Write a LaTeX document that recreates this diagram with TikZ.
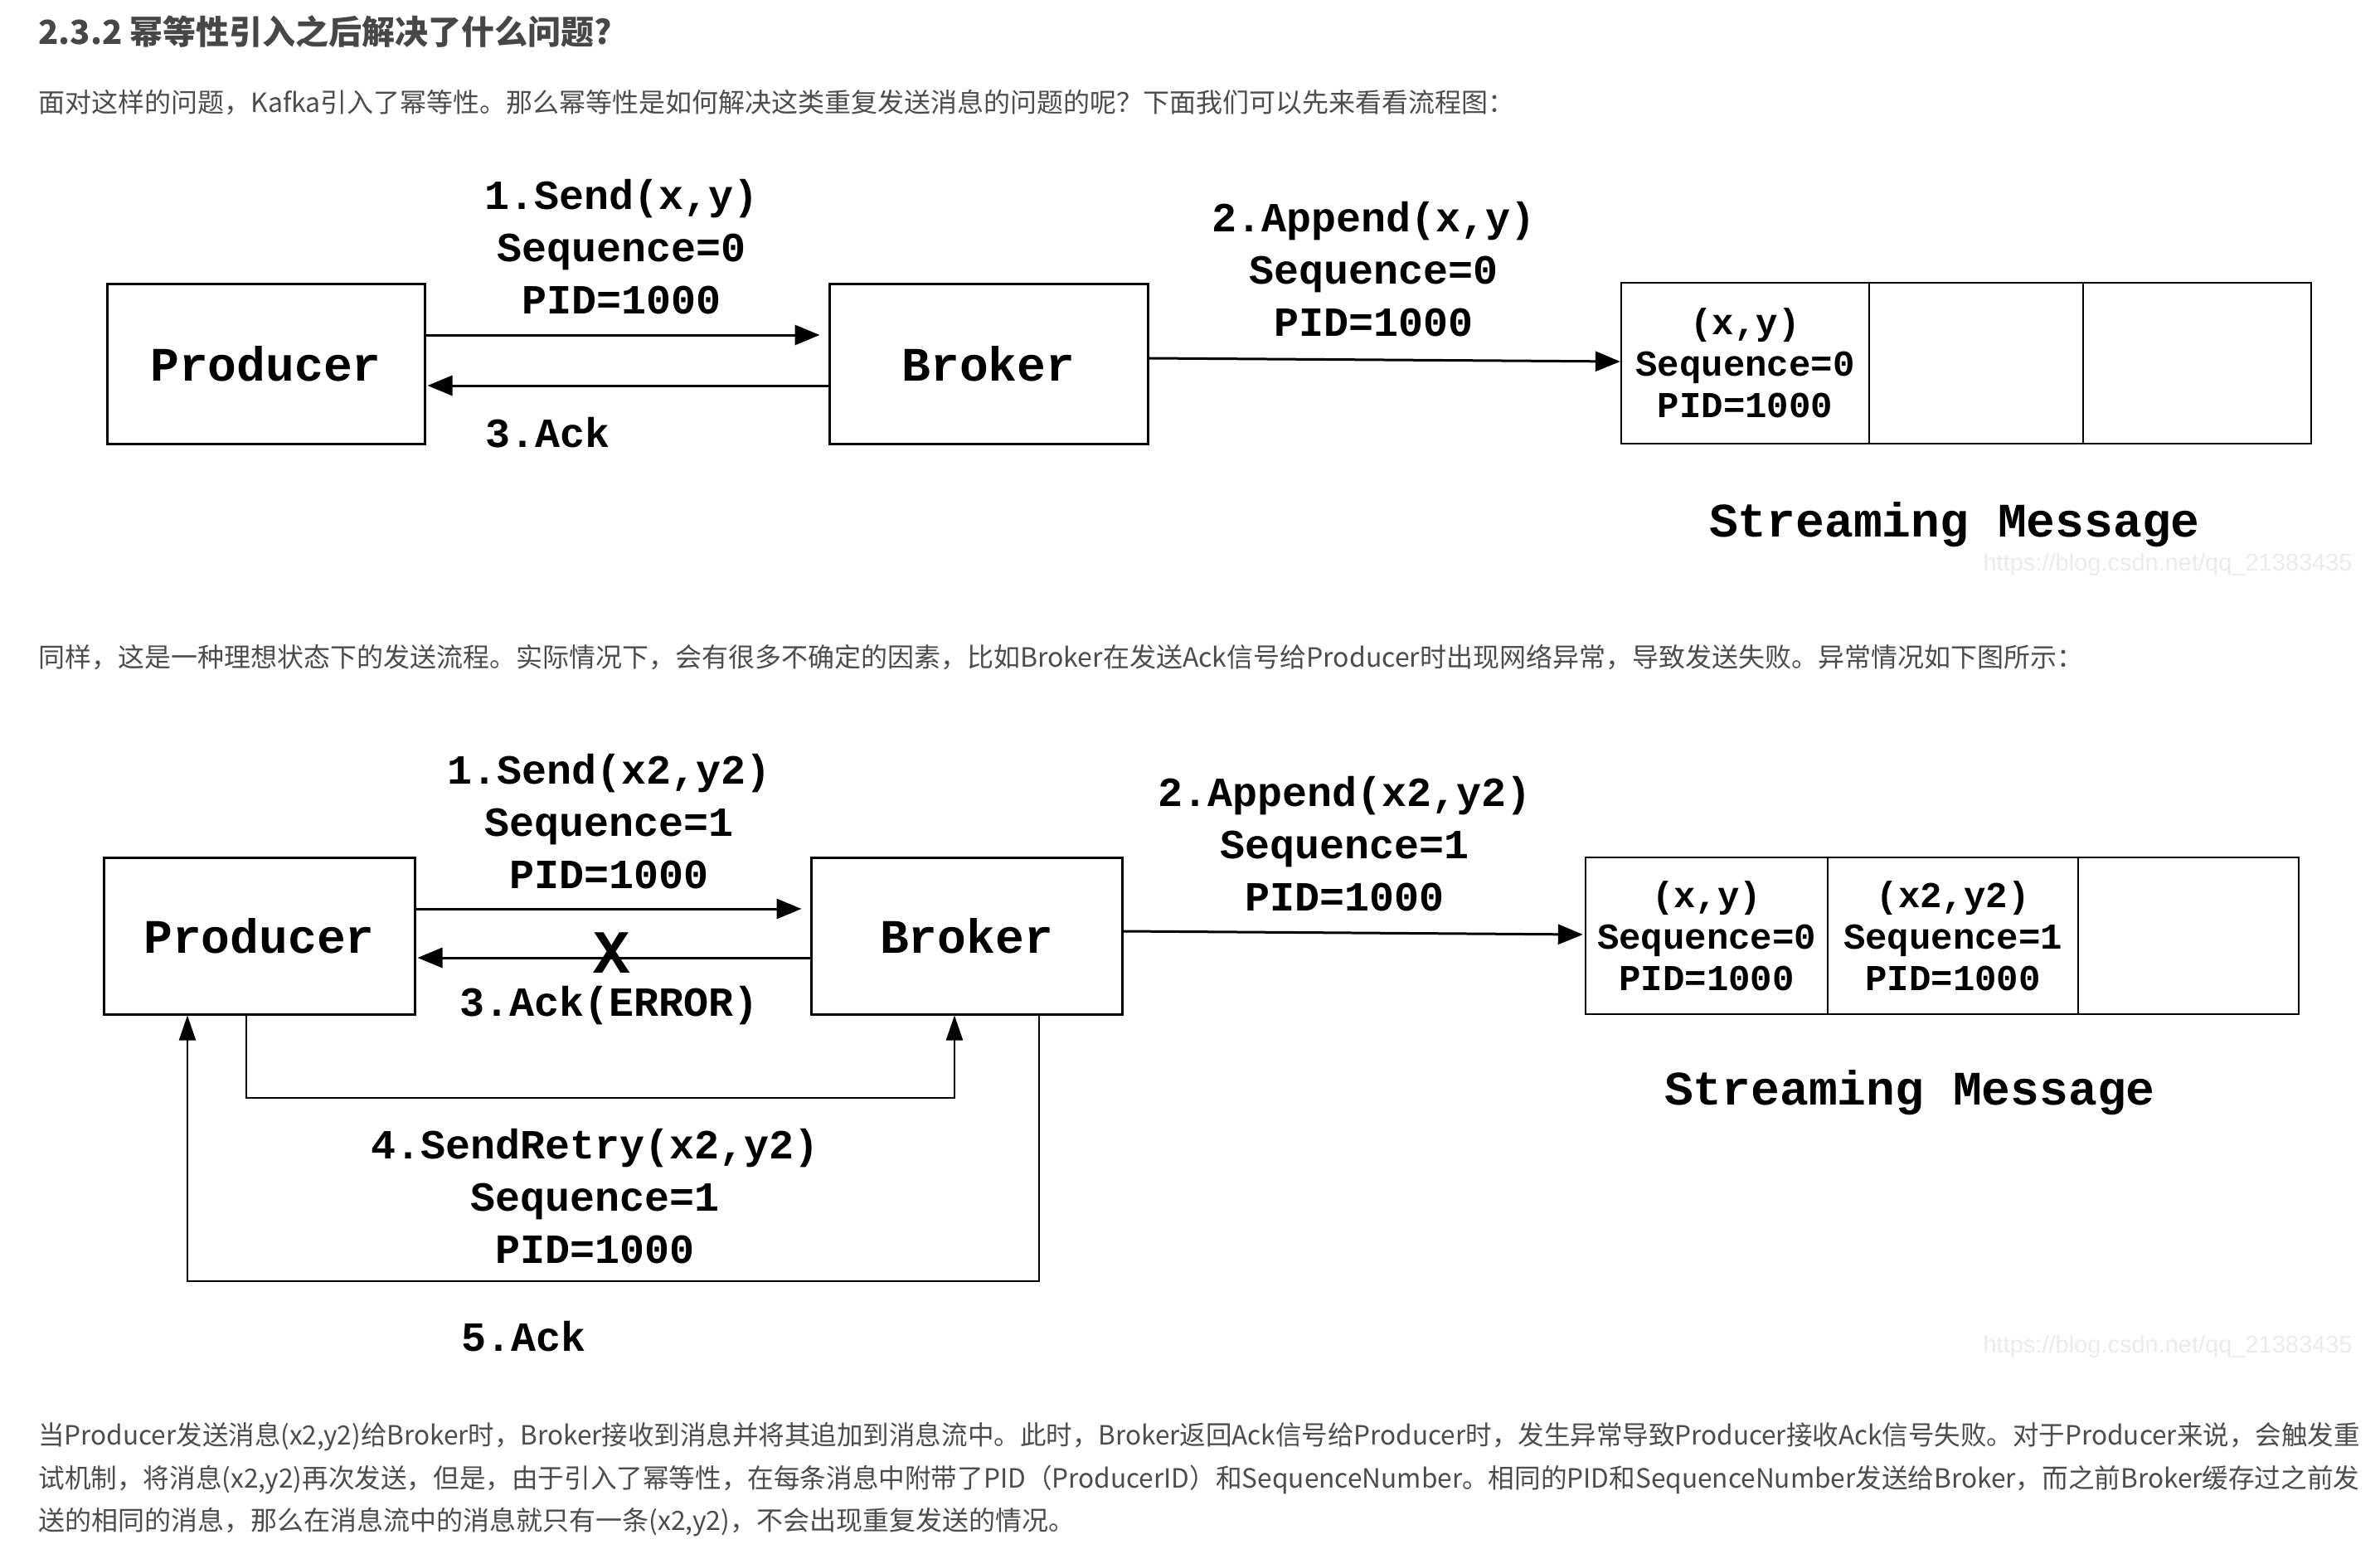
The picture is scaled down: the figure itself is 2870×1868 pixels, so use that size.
\documentclass[tikz,border=0pt]{standalone}
\usepackage{fontspec}
\usepackage{graphicx}
\usepackage{tikz}
\usetikzlibrary{arrows.meta}
\usetikzlibrary{calc}

\setmainfont{Noto Sans CJK SC}
\newfontfamily\cjkfont{Noto Sans CJK SC}
\newfontfamily\monofont{Liberation Mono}
\newfontfamily\markfamily{Liberation Sans}

\newcommand{\boxfont}{\monofont\bfseries\fontsize{29pt}{35pt}\selectfont}
\newcommand{\lblfont}{\monofont\bfseries\fontsize{25pt}{31.5pt}\selectfont}
\newcommand{\cellfont}{\monofont\bfseries\fontsize{22pt}{25pt}\selectfont}
\newcommand{\crossfont}{\monofont\bfseries\fontsize{37pt}{40pt}\selectfont}
\newcommand{\bodyfont}{\cjkfont\fontsize{16pt}{20pt}\selectfont}
\newcommand{\headfont}{\cjkfont\bfseries\fontsize{20pt}{24pt}\selectfont}
\newcommand{\markfont}{\markfamily\fontsize{14.5pt}{16pt}\selectfont}
\newcommand{\fullline}[1]{\resizebox{1399.5pt}{\height}{#1}}

\begin{document}
\begin{tikzpicture}
				[x=0.5pt,y=-0.5pt,
				%Styles
				box/.style={draw,line width=1.5pt,inner sep=0pt,font=\boxfont},
				cell/.style={draw,line width=1.2pt,inner sep=0pt,align=center,font=\cellfont},
				label text/.style={align=center,inner sep=0pt,font=\lblfont},
				msg line/.style={line width=1.5pt,-{Triangle[length=15pt,width=12pt]}},
				retry line/.style={line width=1.1pt,-{Triangle[length=15pt,width=10pt]}},
				body text/.style={anchor=west,inner sep=0pt,text=bodygray,font=\bodyfont},
				watermark/.style={anchor=east,inner sep=0pt,text=markgray,font=\markfont}
				]
				
				%Colors
				\colorlet{bodygray}{black!70}	%text of the page
				\colorlet{headgray}{black!72}	%title
				\colorlet{markgray}{black!8}	%watermark
				
				\fill[white] (0,0) rectangle (2870,1868);
				\useasboundingbox (0,0) rectangle (2870,1868);
				
				%The page text
				\node[body text,text=headgray,font=\headfont] (title) at (46,38) {2.3.2 幂等性引入之后解决了什么问题?};
				\node[body text] (introA) at (46,124) {面对这样的问题，Kafka引入了幂等性。那么幂等性是如何解决这类重复发送消息的问题的呢？下面我们可以先来看看流程图：};
				\node[body text] (introB) at (46,793) {同样，这是一种理想状态下的发送流程。实际情况下，会有很多不确定的因素，比如Broker在发送Ack信号给Producer时出现网络异常，导致发送失败。异常情况如下图所示：};
				\node[body text] (noteA) at (46,1733) {\fullline{当Producer发送消息(x2,y2)给Broker时，Broker接收到消息并将其追加到消息流中。此时，Broker返回Ack信号给Producer时，发生异常导致Producer接收Ack信号失败。对于Producer来说，会触发重}};
				\node[body text] (noteB) at (46,1785) {\fullline{试机制，将消息(x2,y2)再次发送，但是，由于引入了幂等性，在每条消息中附带了PID（ProducerID）和SequenceNumber。相同的PID和SequenceNumber发送给Broker，而之前Broker缓存过之前发}};
				\node[body text] (noteC) at (46,1836) {送的相同的消息，那么在消息流中的消息就只有一条(x2,y2)，不会出现重复发送的情况。};
				
				%The graphic: normal case
				\node[box,minimum width=191.5pt,minimum height=96.5pt] (prodA) at (320.5,438.5) {Producer};
				\node[box,minimum width=192pt,minimum height=96.5pt] (brokA) at (1192,438.5) {Broker};
				\node[cell,minimum width=149.5pt,minimum height=97pt] (streamA1) at (2104.5,438) {(x,y)\\Sequence=0\\PID=1000};
				\node[cell,minimum width=129pt,minimum height=97pt] (streamA2) at (2383,438) {};
				\node[cell,minimum width=137.5pt,minimum height=97pt] (streamA3) at (2649.5,438) {};
				
				\coordinate (sendA) at (0,404);
				\coordinate (ackA) at (0,465);
				\draw[msg line,shorten >=5pt] (sendA -| prodA.east) -- (sendA -| brokA.west);
				\draw[msg line,shorten >=1pt] (ackA -| brokA.west) -- (ackA -| prodA.east);
				\draw[msg line] ([yshift=3.25pt]brokA.east) -- ([yshift=1pt]streamA1.west);
				
				\node[label text] (sendAtext) at (750,298) {1.Send(x,y)\\Sequence=0\\PID=1000};
				\node[label text] (ackAtext) at (661,522) {3.Ack};
				\node[label text] (appendAtext) at (1657,325) {2.Append(x,y)\\Sequence=0\\PID=1000};
				\node[inner sep=0pt,font=\boxfont] (streamAtext) at (2357,633) {Streaming Message};
				\node[watermark] (markA) at (2837,681) {https://blog.csdn.net/qq\_21383435};
				
				%The graphic: lost ack and retry
				\node[box,minimum width=187.5pt,minimum height=94.5pt] (prodB) at (312.5,1128.5) {Producer};
				\node[box,minimum width=187.5pt,minimum height=94.5pt] (brokB) at (1165.5,1128.5) {Broker};
				\node[cell,minimum width=146pt,minimum height=94.5pt] (streamB1) at (2058,1128.5) {(x,y)\\Sequence=0\\PID=1000};
				\node[cell,minimum width=151pt,minimum height=94.5pt] (streamB2) at (2355,1128.5) {(x2,y2)\\Sequence=1\\PID=1000};
				\node[cell,minimum width=133pt,minimum height=94.5pt] (streamB3) at (2639,1128.5) {};
				
				\coordinate (sendB) at (0,1096);
				\coordinate (ackB) at (0,1155);
				\draw[msg line,shorten >=5pt] (sendB -| prodB.east) -- (sendB -| brokB.west);
				\draw[msg line,shorten >=1pt] (ackB -| brokB.west) -- (ackB -| prodB.east);
				\draw[msg line] ([yshift=2.75pt]brokB.east) -- ([xshift=-1pt,yshift=0.75pt]streamB1.west);
				
				\coordinate (retryA) at (297,1324);
				\coordinate (retryB) at (1151,1324);
				\draw[retry line] (retryA |- prodB.south) -- (retryA) -- (retryB) -- (retryB |- brokB.south);
				\coordinate (loopA) at (1253,1545);
				\coordinate (loopB) at (226,1545);
				\draw[retry line] (loopA |- brokB.south) -- (loopA) -- (loopB) -- (loopB |- prodB.south);
				
				\node[label text] (sendBtext) at (735,991) {1.Send(x2,y2)\\Sequence=1\\PID=1000};
				\node[inner sep=0pt,font=\crossfont] (lost) at (738,1149) {X};
				\node[label text] (ackBtext) at (735,1213) {3.Ack(ERROR)};
				\node[label text] (appendBtext) at (1622,1018) {2.Append(x2,y2)\\Sequence=1\\PID=1000};
				\node[label text] (retryText) at (718,1443) {4.SendRetry(x2,y2)\\Sequence=1\\PID=1000};
				\node[label text] (ackCtext) at (632,1612) {5.Ack};
				\node[inner sep=0pt,font=\boxfont] (streamBtext) at (2303,1318) {Streaming Message};
				\node[watermark] (markB) at (2837,1624) {https://blog.csdn.net/qq\_21383435};
			\end{tikzpicture}
\end{document}
